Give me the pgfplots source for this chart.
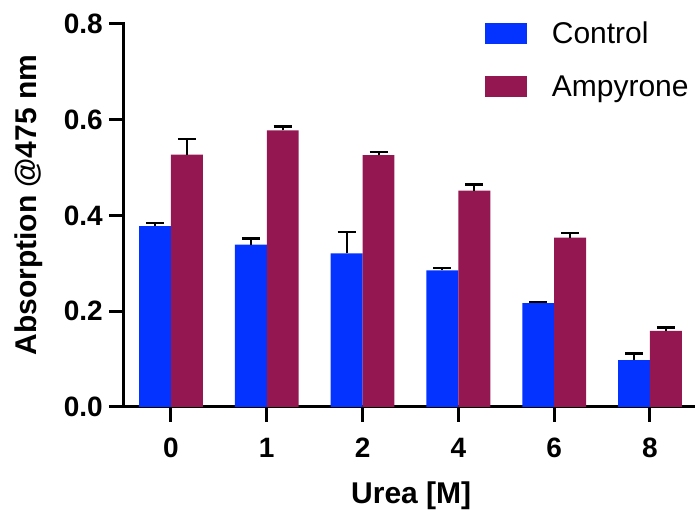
\documentclass[border=0pt]{standalone}
\usepackage{pgfplots}
\pgfplotsset{compat=1.18}
\usepackage{fontspec}
\setmainfont{Liberation Sans}
\definecolor{ctrlblue}{RGB}{4,51,255}
\definecolor{ampmaroon}{RGB}{148,23,81}
\begin{document}
\begin{tikzpicture}
\path[use as bounding box] (-124pt,-103pt) rectangle (571pt,407pt);
\begin{axis}[
  scale only axis,
  width=571pt, height=383pt,
  at={(0pt,0pt)}, anchor=south west,
  ybar=0pt, bar width=0.333,
  xmin=-0.49, xmax=5.47,
  ymin=0, ymax=0.8,
  xtick={0,1,2,3,4,5},
  xticklabels={0,1,2,4,6,8},
  ytick={0,0.2,0.4,0.6,0.8},
  axis x line*=bottom, axis y line*=left,
  axis line style={-, line width=3pt, black, line cap=rect},
  tick style={line width=3pt, black},
  tick align=outside,
  major tick length=15pt,
  /pgf/number format/assume math mode=true,
  yticklabel style={/pgf/number format/fixed, /pgf/number format/fixed zerofill, /pgf/number format/precision=1,
    font=\bfseries\fontsize{28}{28}\selectfont, inner sep=0pt, anchor=east, xshift=-6pt},
  xticklabel style={font=\bfseries\fontsize{28}{28}\selectfont, inner sep=0pt, anchor=north, yshift=-16pt},
  xlabel={Urea [M]},
  ylabel={Absorption @475 nm},
  xlabel style={font=\bfseries\fontsize{30}{30}\selectfont, inner sep=0pt, at={(axis description cs:0.503,0)}, anchor=base, yshift=-96pt},
  ylabel style={font=\bfseries\fontsize{30}{30}\selectfont, inner sep=0pt, at={(axis description cs:-0.1419,0.527)}, anchor=south},
  legend image code/.code={\fill[#1] (0pt,-10.5pt) rectangle (42pt,10.5pt);},
  legend style={draw=none, fill=none, at={(axis description cs:0.632,1.005)}, anchor=north west,
    inner sep=0pt, outer sep=0pt, row sep=30.5pt,
    nodes={inner sep=0pt},
    /tikz/every odd column/.append style={column sep=25pt},
    font=\fontsize{30}{30}\selectfont},
  legend cell align=left,
  clip=false,
]
\addplot[fill=ctrlblue, draw=none,
  error bars/.cd, y dir=plus, y explicit,
  error bar style={line width=2pt, black},
  error mark options={rotate=90, mark size=9pt, line width=2.5pt, black}]
  coordinates {
  (0,0.378) +- (0,0.006)
  (1,0.339) +- (0,0.013)
  (2,0.321) +- (0,0.045)
  (3,0.2855) +- (0,0.005)
  (4,0.217) +- (0,0.002)
  (5,0.098) +- (0,0.014)
  };
\addplot[fill=ampmaroon, draw=none,
  error bars/.cd, y dir=plus, y explicit,
  error bar style={line width=2pt, black},
  error mark options={rotate=90, mark size=9pt, line width=2.5pt, black}]
  coordinates {
  (0,0.527) +- (0,0.033)
  (1,0.578) +- (0,0.008)
  (2,0.526) +- (0,0.007)
  (3,0.452) +- (0,0.013)
  (4,0.354) +- (0,0.009)
  (5,0.159) +- (0,0.007)
  };
\legend{Control, Ampyrone}
\end{axis}
\end{tikzpicture}
\end{document}
